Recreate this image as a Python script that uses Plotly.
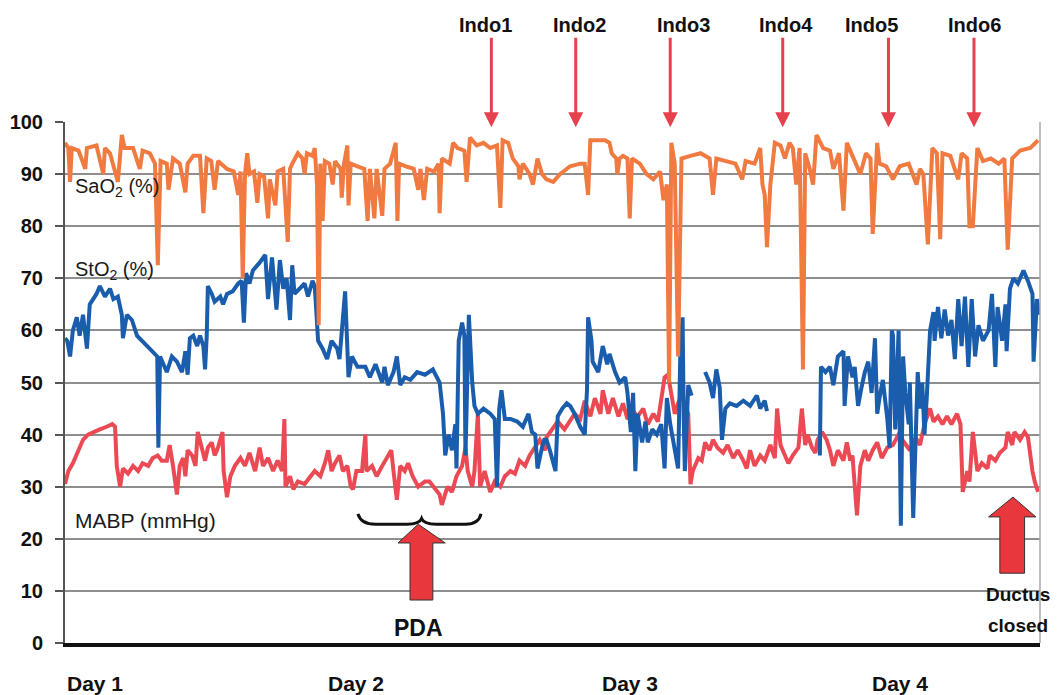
import plotly.graph_objects as go

# ---------------- data (time in hours from start of Day 1) ----------------
sao2_t = [0, 0.3, 0.45, 0.6, 1.2, 1.8, 1.95, 2.8, 3.4, 3.55, 4.0, 4.7, 5.05, 5.3, 6.05, 6.65, 6.9, 7.55, 8.0, 8.25,
          8.5, 9.05, 9.2, 9.6, 10.2, 10.7, 10.9, 11.4, 12.0, 12.3, 12.6, 13.0, 13.3, 13.6, 14.4, 15.0, 15.4, 15.6, 15.8, 16.0,
          16.2, 16.4, 16.8, 17.1, 17.3, 17.7, 18.05, 18.2, 18.7, 18.9, 19.4, 19.8, 20.0, 20.2, 20.7, 21.1, 21.3, 21.5, 22.0, 22.2,
          22.4, 22.55, 22.7, 22.9, 23.1, 23.5, 23.8, 24.0, 24.5, 24.6, 24.8, 25.1, 25.2, 25.4, 26.0, 26.6, 26.9, 27.1, 27.5, 27.7,
          28.2, 28.4, 28.9, 29.4, 29.55, 29.7, 30.3, 31.0, 31.4, 31.6, 31.9, 32.2, 32.8, 33.2, 33.3, 33.5, 34.2, 34.5, 34.9, 35.5,
          35.7, 36.0, 36.6, 37.2, 37.8, 38.4, 38.7, 38.9, 39.4, 39.8, 40.3, 40.4, 40.7, 41.3, 41.6, 42.0, 42.4, 42.8, 43.4, 44.0,
          44.9, 45.8, 46.2, 46.5, 46.7, 47.3, 48.0, 48.4, 48.6, 49.0, 49.1, 49.3, 49.6, 50.0, 50.2, 50.4, 51.1, 51.7, 52.3, 52.9,
          53.2, 53.5, 53.7, 53.9, 54.2, 54.5, 54.8, 55.6, 56.5, 57.3, 57.6, 57.9, 58.8, 59.6, 60.2, 60.5, 61.3, 61.8, 62.0, 62.2,
          62.4, 62.7, 63.1, 63.6, 64.0, 64.4, 64.7, 65.0, 65.3, 65.6, 65.8, 66.2, 66.5, 66.8, 67.4, 68.0, 68.3, 68.8, 69.2, 69.5,
          70.0, 70.7, 71.2, 71.6, 71.8, 72.2, 72.4, 73.0, 73.6, 74.2, 75.0, 75.7, 76.0, 76.3, 76.7, 77.1, 77.5, 77.8, 78.0, 78.7,
          79.4, 79.7, 80.2, 80.4, 80.7, 81.1, 81.6, 82.3, 83.0, 83.5, 83.8, 84.2, 84.9, 85.8, 86.5]
sao2_v = [96, 95, 88.5, 95, 94.5, 91, 95, 95.5, 90, 95, 94, 88.5, 97.5, 95, 95, 91, 94.5, 94, 92, 72.5,
          92.5, 92, 87, 93, 92, 86.5, 92, 93.5, 93.5, 82.5, 93, 92.5, 87, 92.5, 91, 90.5, 86, 90.5, 70, 90,
          94, 90, 90.5, 84.5, 90, 89.5, 81.5, 89, 84, 90.5, 91, 77, 91, 92, 94, 93, 90, 94, 93.5, 95,
          88, 61, 92, 81, 92.5, 92, 88, 92.5, 91, 85.5, 92, 95.5, 84, 92, 91.5, 91, 81, 91, 81.5, 91,
          82, 91, 92, 96, 81, 92, 91.5, 91, 87, 91, 85, 91, 90.5, 92, 82.5, 93, 92, 96, 95, 94.5,
          88.5, 97, 95.5, 96, 95, 95.5, 83.5, 96.5, 96, 93, 91.5, 89, 92, 90, 88, 93, 90, 89, 88.5, 90,
          91.5, 92, 92, 86, 96.5, 96.5, 96.5, 96, 94, 93, 90, 93, 93.5, 93, 81.5, 93, 92, 90, 89, 90.5,
          85, 88, 50, 96, 92, 55, 93, 93.5, 94, 93, 86, 93, 92.5, 92, 89, 92.5, 92, 95, 88, 86,
          76, 88, 96, 95.5, 93, 96, 95, 88, 95, 52.5, 94, 91, 88, 97.5, 95, 94.5, 91, 94, 83, 96,
          93.5, 90, 94, 93, 78.5, 96, 92, 91.5, 89, 91.5, 92, 88, 91, 90, 76.5, 95, 94, 77.5, 94, 93.5,
          89, 94, 93, 80, 80, 95, 92.5, 93, 92, 93, 75.5, 93, 94.5, 95, 96.5]

sto2_t = [0, 0.2, 0.45, 0.7, 1.05, 1.3, 1.6, 1.95, 2.2, 2.5, 2.8, 3.1, 3.55, 4.0, 4.3, 4.7, 5.05, 5.15, 5.5, 5.95,
          6.4, 6.85, 7.3, 7.8, 8.2, 8.3, 8.45, 9.05, 9.5, 9.95, 10.4, 10.7, 10.9, 11.1, 11.4, 11.75, 12.0, 12.3, 12.45, 12.6,
          12.7, 13.05, 13.3, 13.8, 14.05, 14.4, 14.9, 15.4, 15.7, 15.9, 16.1, 16.4, 16.7, 17.3, 17.8, 18.05, 18.4, 18.8, 19.1, 19.4,
          19.7, 20.0, 20.2, 20.4, 20.9, 21.3, 21.6, 22.0, 22.2, 22.4, 22.5, 22.9, 23.3, 23.7, 24.2, 24.4, 24.9, 25.2, 25.5, 26.0,
          26.7, 27.1, 27.6, 28.2, 28.4, 28.7, 29.2, 29.5, 29.8, 30.2, 30.7, 31.3, 32.0, 32.7, 33.3, 33.6, 33.8, 34.1, 34.4, 34.7,
          34.8, 35.0, 35.3, 35.5, 35.6, 35.9, 36.2, 36.4, 36.7, 37.2, 37.8, 38.2, 38.4, 38.6, 38.8, 39.1, 39.6, 40.2, 40.7, 41.2,
          41.5, 41.8, 42.0, 42.4, 42.6, 42.8, 43.1, 43.6, 43.8, 44.2, 44.6, 44.9, 45.3, 45.8, 46.2, 46.4, 46.5, 46.8, 46.9, 47.4,
          47.8, 48.2, 48.4, 48.9, 49.3, 49.8, 50.0, 50.3, 50.5, 50.7, 50.9, 51.3, 51.6, 51.8, 52.2, 52.6, 53.0, 53.3, 53.5, 53.8,
          54.2, 54.5, 54.7, 54.9, 55.0, 55.1, 55.4, 55.7, 56.3,
          56.9, 57.3, 57.6, 57.9, 58.2, 58.4, 58.7, 59.1, 59.7, 60.3, 60.9, 61.5, 61.8, 62.2, 62.4, 64.8,
          67.1, 67.2, 67.6, 68.0, 68.3, 68.7, 69.2, 69.3, 69.6, 70.0, 70.2, 70.5, 70.8, 71.1, 71.4, 71.7, 72.0, 72.2, 72.4, 72.7,
          73.1, 73.3, 73.5, 73.6, 73.8, 74.1, 74.3, 74.5, 74.7, 75.0, 75.1, 75.4, 75.8, 76.0, 76.2, 76.4, 76.6, 76.9, 77.2, 77.3,
          77.6, 77.9, 78.2, 78.5, 78.8, 79.1, 79.4, 79.7, 80.0, 80.3, 80.6, 80.9, 81.2, 81.6, 82.1, 82.4, 82.7, 82.9, 83.3, 83.6,
          83.7, 84.0, 84.3, 84.7, 85.2, 85.6, 86.0, 86.1, 86.4, 86.6]
sto2_v = [58.5, 58, 55, 60, 62.5, 59, 63, 56.5, 65, 66, 67, 68.5, 66.5, 68, 66, 66.5, 63, 58.5, 63, 62,
          59, 58, 57, 56, 55, 37.5, 55, 52, 55, 54, 52, 56, 51.5, 58.5, 59, 57, 59, 57, 52.5, 59,
          68.5, 67, 65.5, 66.5, 65, 67, 67.5, 69, 69.5, 61.5, 71, 69, 71.5, 73, 74.5, 66, 74, 64, 73.5, 68,
          70, 62, 72.5, 67, 68, 69, 66.5, 69.5, 68.5, 61, 58, 56.5, 54.5, 58, 56.5, 54.5, 67.5, 51, 55, 53,
          53, 51, 53.5, 50, 53, 49.5, 52, 55, 49.5, 51, 50.5, 52, 51.5, 52.5, 50, 44, 36, 40, 37, 42,
          33.5, 58, 61.5, 59, 36, 63, 50, 45.5, 44, 45, 44, 43, 30, 45, 48.5, 43, 43, 42.5, 41.5, 44,
          40.5, 40, 33.5, 37.5, 39, 39, 37, 33, 43.5, 45, 46, 45.5, 44, 41.5, 40, 48.5, 62.5, 58, 54, 52,
          57, 53.5, 55.5, 52, 50, 51, 48, 40.5, 48, 33, 44, 38.5, 42.5, 38.5, 41, 40, 42, 33.5, 47, 42,
          37, 33.5, 56, 62.5, 43, 33, 49.5, 47.5, None,
          52, 50, 47, 52.5, 49, 39, 45, 46, 45.5, 46.5, 45.5, 47.5, 45, 46.5, 44.5, None,
          36, 53, 52, 53, 49.5, 55, 56, 45.5, 55, 51, 53, 45.5, 49, 52, 54, 48, 58.5, 44, 47, 50.5,
          43, 37.5, 60, 59, 41, 60, 22.5, 55, 48, 42, 50, 24, 52, 45, 50, 40, 47, 60, 63.5, 58,
          64.5, 58.5, 64, 59, 62, 54.5, 66, 57, 66.5, 53, 66, 55, 61, 58, 60, 67, 53, 64.5, 58, 65,
          56, 68, 70, 69, 71.5, 69.5, 67, 54, 66, 63]

mabp_t = [0, 0.3, 0.7, 1.2, 1.6, 2.05, 2.5, 3.1, 3.7, 4.2, 4.45, 4.6, 4.9, 5.15, 5.6, 6.05, 6.5, 6.9, 7.4, 7.8,
          8.25, 8.6, 9.05, 9.3, 9.6, 9.95, 10.2, 10.5, 10.7, 10.9, 11.3, 11.6, 11.8, 12.2, 12.45, 12.7, 13.05, 13.3, 13.6, 14.0,
          14.1, 14.4, 14.7, 15.1, 15.6, 16.0, 16.4, 16.9, 17.3, 17.6, 18.05, 18.5, 18.9, 19.3, 19.5, 19.6, 20.0, 20.3, 20.7, 21.3,
          21.8, 22.2, 22.7, 23.1, 23.4, 23.7, 24.0, 24.4, 24.7, 25.1, 25.4, 25.6, 25.9, 26.4, 26.7, 26.8, 27.3, 27.7, 28.2, 28.6,
          29.0, 29.2, 29.5, 29.8, 30.2, 30.5, 30.9, 31.4, 32.0, 32.4, 32.9, 33.3, 33.5, 34.0, 34.4, 34.8, 35.3, 35.6, 35.8, 36.2,
          36.4, 36.7, 36.9, 37.3, 37.8, 38.2, 38.7, 39.1, 39.6, 40.0, 40.4, 40.9, 41.3, 41.8, 42.2, 42.7, 42.8, 43.3, 43.8, 44.4,
          44.9, 45.3, 45.8, 46.2, 46.7, 47.1, 47.6, 47.8, 48.3, 48.7, 49.2, 49.6, 50.0, 50.5, 50.9, 51.4, 51.8, 52.3, 52.7, 52.9,
          53.3, 53.6, 54.0, 54.2, 54.5, 54.8, 55.1, 55.4, 55.6, 55.8, 56.3, 56.6, 56.9, 57.3, 57.6, 58.0, 58.5, 58.9, 59.4, 59.8,
          60.3, 60.6, 60.9, 61.3, 61.8, 62.2, 62.7, 63.1, 63.3, 63.6, 64.0, 64.3, 64.7, 65.2, 65.5, 65.8, 66.0, 66.4, 66.7, 66.9,
          67.3, 67.7, 68.0, 68.3, 68.7, 69.2, 69.5, 69.8, 70.0, 70.4, 70.7, 71.1, 71.4, 71.8, 72.2, 72.6, 73.1, 73.6, 74.1, 74.7,
          75.1, 75.6, 76.0, 76.4, 76.9, 77.2, 77.6, 78.0, 78.4, 78.8, 79.3, 79.6, 79.7, 79.8, 80.2, 80.4, 80.7, 81.1, 81.5, 82.0,
          82.2, 82.7, 83.1, 83.6, 83.8, 84.2, 84.4, 84.9, 85.3, 85.6, 86.0, 86.2, 86.5]
mabp_v = [30.5, 33, 34.5, 37, 39, 40, 40.5, 41, 41.5, 42, 41.5, 34, 30, 33.5, 32.5, 34, 33, 34.5, 34, 35.5,
          36, 35, 35, 38, 34, 28.5, 34, 35.5, 32, 37, 36, 34, 40.5, 37, 35, 37.5, 38.5, 36, 37.5, 40.5,
          33, 28, 32, 34, 35.5, 34, 36.5, 33, 37.5, 34, 35.5, 33, 35, 33, 43, 30, 32, 29.5, 31, 30.5,
          32, 33, 32, 34.5, 37, 33, 34.5, 36, 33, 34, 30, 29.5, 33, 33, 40, 33, 34, 32, 34, 35.5,
          37, 33, 27.5, 34, 33, 34.5, 32, 30, 31, 31, 29.5, 28.5, 26.5, 30, 29, 32, 34, 37.5, 33, 30,
          33, 44, 30, 33, 29, 31, 30, 32, 33, 32.5, 35, 34, 36, 37.5, 39, 37, 39.5, 41, 42.5, 41,
          42.5, 44, 43, 46.5, 43.5, 47, 44, 48.5, 44, 47, 43.5, 46, 43, 44.5, 43.5, 45, 42, 44, 42.5, 45.5,
          51, 51.5, 47, 44, 46, 47.5, 46, 44, 30.5, 33, 35.5, 35, 38.5, 37, 39, 37.5, 36.5, 38, 35.5, 37,
          35, 33.5, 37, 34, 36, 35, 38, 35.5, 45, 38, 36, 34.5, 36, 37.5, 45, 38, 40, 37.5, 36.5, 39,
          40.5, 39, 37, 34, 37, 35, 38.5, 35, 36, 24.5, 34, 37, 35, 37, 38.5, 35.5, 37.5, 38, 40, 38,
          37, 39.5, 38, 42, 45, 42.5, 43.5, 42, 43.5, 42, 44, 42, 35, 29, 33, 31, 40.5, 33, 34.5, 33.5,
          36, 35, 36.5, 37.5, 40.5, 38, 40.5, 39, 40.5, 39.5, 33, 31, 29]

y_ticks = [0, 10, 20, 30, 40, 50, 60, 70, 80, 90, 100]
day_labels = ["Day 1", "Day 2", "Day 3", "Day 4"]
day_start = [0, 24, 48, 72]
day_shift = [0, -9, -5, -5]
indo_labels = ["Indo1", "Indo2", "Indo3", "Indo4", "Indo5", "Indo6"]
indo_time = [37.9, 45.4, 53.8, 63.8, 73.2, 80.8]
indo_label_shift = [-6, 4, 13, 3, -17, 1]

X_MAX = 86.67
FONT = "Liberation Sans, Arial, sans-serif"
ORANGE = "#F07A3F"
BLUE = "#1A5DAD"
RED = "#EB4A54"
ARROW_RED = "#E8414E"
LW = 4

fig = go.Figure()
fig.add_trace(go.Scatter(x=mabp_t, y=mabp_v, mode="lines", line=dict(color=RED, width=LW),
                         name="MABP (mmHg)", connectgaps=False))
fig.add_trace(go.Scatter(x=sto2_t, y=sto2_v, mode="lines", line=dict(color=BLUE, width=LW),
                         name="StO2 (%)", connectgaps=False))
fig.add_trace(go.Scatter(x=sao2_t, y=sao2_v, mode="lines", line=dict(color=ORANGE, width=LW),
                         name="SaO2 (%)", connectgaps=False))

ann = []
# series labels inside the plot
ann.append(dict(x=0.7, y=87.5, xref="x", yref="y", text="SaO<sub>2</sub> (%)", showarrow=False,
                xanchor="left", yanchor="middle", font=dict(family=FONT, size=20, color="#1a1a1a")))
ann.append(dict(x=0.7, y=71.5, xref="x", yref="y", text="StO<sub>2</sub> (%)", showarrow=False,
                xanchor="left", yanchor="middle", font=dict(family=FONT, size=20, color="#1a1a1a")))
ann.append(dict(x=0.7, y=23.6, xref="x", yref="y", text="MABP (mmHg)", showarrow=False,
                xanchor="left", yanchor="middle", font=dict(family=FONT, size=21, color="#1a1a1a")))
# day labels
for lab, t, s in zip(day_labels, day_start, day_shift):
    ann.append(dict(x=t, y=-0.077, xref="x", yref="paper", text=lab, showarrow=False, xshift=s,
                    xanchor="left", yanchor="middle",
                    font=dict(family=FONT, size=21, color="#111", weight="bold")))
# Indo arrows and labels
for lab, t, s in zip(indo_labels, indo_time, indo_label_shift):
    ann.append(dict(x=t, y=99, xref="x", yref="y", text=" ", showarrow=True, ax=0, ay=-92,
                    arrowhead=2, arrowsize=1, arrowwidth=3, arrowcolor=ARROW_RED,
                    font=dict(size=2)))
    ann.append(dict(x=t, y=1.186, xref="x", yref="paper", text=lab, showarrow=False, xshift=s,
                    xanchor="center", yanchor="middle",
                    font=dict(family=FONT, size=20, color="#111", weight="bold")))
# PDA and ductus labels
ann.append(dict(x=31.4, y=2.9, xref="x", yref="y", text="PDA", showarrow=False,
                font=dict(family=FONT, size=23, color="#111", weight="bold")))
ann.append(dict(x=84.7, y=9.4, xref="x", yref="y", text="Ductus", showarrow=False,
                font=dict(family=FONT, size=19, color="#111", weight="bold")))
ann.append(dict(x=84.7, y=3.3, xref="x", yref="y", text="closed", showarrow=False,
                font=dict(family=FONT, size=19, color="#111", weight="bold")))

shapes = []
# brace over the PDA period
shapes.append(dict(type="path", xref="x", yref="y",
                   path="M 26.04,24.8 Q 26.3,22.8 27.6,22.8 L 30.4,22.8 Q 31.5,22.8 31.7,23.9 "
                        "Q 31.9,22.8 33.0,22.8 L 35.6,22.8 Q 36.8,22.8 36.98,24.8",
                   line=dict(color="#111", width=3)))
# PDA block arrow
shapes.append(dict(type="path", xref="x", yref="y",
                   path="M 31.4,22.8 L 33.8,19.2 L 32.7,19.2 L 32.7,8.25 L 30.67,8.25 L 30.67,19.2 L 29.6,19.2 Z",
                   fillcolor="#E8383D", line=dict(color="#333", width=1)))
# Ductus closed block arrow
shapes.append(dict(type="path", xref="x", yref="y",
                   path="M 84.27,28.0 L 86.3,24.2 L 85.3,24.2 L 85.3,13.4 L 83.1,13.4 L 83.1,24.2 L 82.1,24.2 Z",
                   fillcolor="#E8383D", line=dict(color="#333", width=1)))
# right border
shapes.append(dict(type="line", xref="paper", yref="paper", x0=1, x1=1, y0=0, y1=1,
                   line=dict(color="#A8A8A8", width=1.5)))

fig.update_layout(
    width=1058, height=695,
    margin=dict(l=65, r=18, t=122, b=52, autoexpand=False),
    paper_bgcolor="white", plot_bgcolor="white",
    showlegend=False,
    annotations=ann, shapes=shapes,
    font=dict(family=FONT),
    xaxis=dict(range=[0, X_MAX], showgrid=False, zeroline=False, showticklabels=False,
               ticks="", showline=True, linecolor="#111", linewidth=4, automargin=False),
    yaxis=dict(range=[0, 100], tickvals=y_ticks, showgrid=True, gridcolor="#8E8E8E", gridwidth=1.5,
               zeroline=False, showline=True, linecolor="#555", linewidth=2,
               ticks="outside", ticklen=8, tickcolor="#555", tickwidth=1.5,
               ticklabelstandoff=8, automargin=False,
               tickfont=dict(family=FONT, size=20, color="#111", weight="bold")),
)

# the page body has a default 8px margin; remove it so the figure sits at the window's corner
fig.write_html("out.html", config={"displayModeBar": False},
               post_script="document.body.style.margin='0px';document.body.style.overflow='hidden';")
